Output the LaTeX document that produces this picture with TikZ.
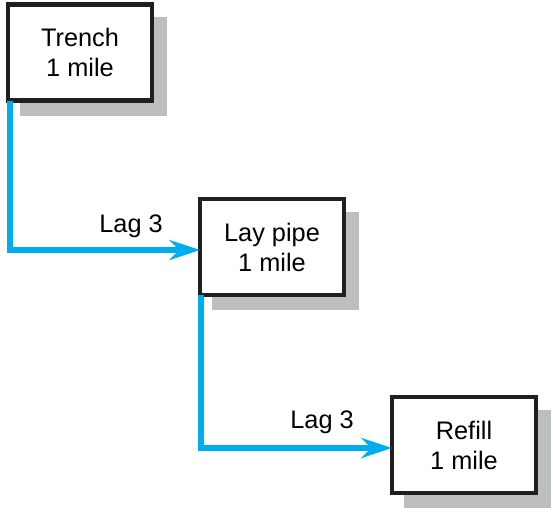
\documentclass[tikz,border=0pt]{standalone}
\usepackage{fontspec}
\setmainfont{Liberation Sans}
\usetikzlibrary{arrows.meta,shadows}
\definecolor{flowc}{HTML}{00AEEF}
\definecolor{shadowc}{HTML}{BCBEC0}
\definecolor{edgec}{HTML}{231F20}
\tikzset{
  taskbox/.style={draw=edgec, line width=3.2pt, fill=white, outer sep=0pt,
    minimum width=108pt, minimum height=72pt, align=center,
    font=\fontsize{19}{22.5}\selectfont,
    drop shadow={shadow xshift=10.1pt, shadow yshift=-10.5pt, fill=shadowc,
      draw=shadowc, line width=2pt, opacity=1}},
  flow/.style={draw=flowc, line width=4.4pt,
    -{Stealth[length=23pt, width=15pt, inset=7.5pt]}},
  lagtext/.style={font=\fontsize{19}{22.5}\selectfont, anchor=base east, inner sep=0pt}
}
\begin{document}
\begin{tikzpicture}[x=0.75pt, y=-0.75pt]
\useasboundingbox (0,0) rectangle (553,511);
\node[taskbox] (trench) at (80,52.5) {Trench\\1 mile};
\node[taskbox] (lay) at (272,247) {Lay pipe\\1 mile};
\node[taskbox] (refill) at (464,445) {Refill\\1 mile};
\draw[flow] ([xshift=1.5pt]trench.south west) |- ([yshift=-2.25pt]lay.west);
\draw[flow] ([xshift=0.75pt]lay.south west) |- ([yshift=-2.25pt]refill.west);
\node[lagtext] (lag1) at (163,232) {Lag 3};
\node[lagtext] (lag2) at (354,428.5) {Lag 3};
\end{tikzpicture}
\end{document}
